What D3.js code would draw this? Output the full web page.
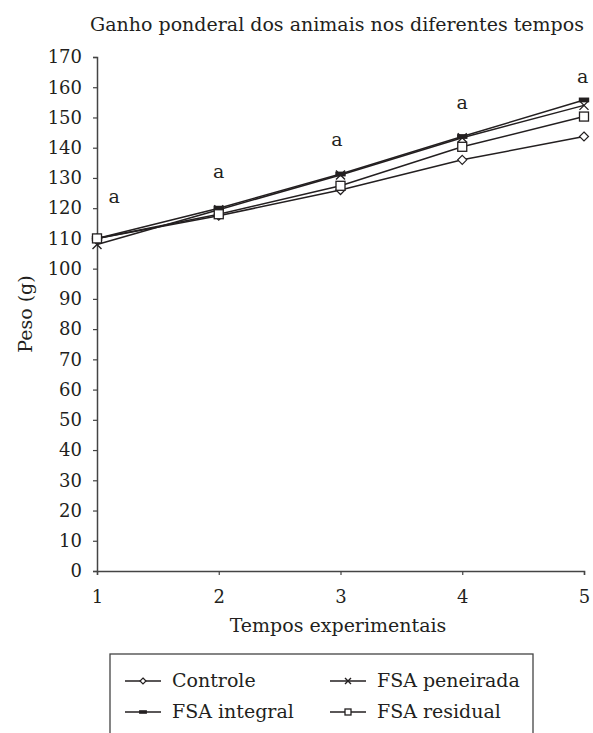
<!DOCTYPE html>
<html>
<head>
<meta charset="utf-8">
<script src="https://cdn.jsdelivr.net/npm/d3@7"></script>
<style>
  body { margin: 0; background: #fff; }
</style>
</head>
<body>
<div id="chart"></div>
<script>
// valores
const tempos = [1, 2, 3, 4, 5];
const controle = [110, 117.5, 126, 136, 143.7];
const peneirada = [108, 119.5, 131, 143.3, 154];
const integral = [110, 120, 131.3, 143.7, 155.8];
const residual = [110, 118, 127.4, 140.3, 150.3];
const yTicks = [0, 10, 20, 30, 40, 50, 60, 70, 80, 90, 100, 110, 120, 130, 140, 150, 160, 170];
const letraX = [1.14, 2.0, 2.97, 4.0, 4.99];
const letraY = [123.7, 132, 142.5, 154.8, 163.4];
const letras = ["a", "a", "a", "a", "a"];

const series = [
  { name: "Controle", values: controle, marker: "diamond" },
  { name: "FSA peneirada", values: peneirada, marker: "cross" },
  { name: "FSA integral", values: integral, marker: "bar" },
  { name: "FSA residual", values: residual, marker: "square" }
];

const width = 593, height = 733;
const margin = { top: 57, left: 97, right: 9, bottom: 162 };
const ink = "#231f20";
const serif = "'DejaVu Serif', 'Liberation Serif', serif";

const svg = d3.select("#chart").append("svg")
  .attr("width", width)
  .attr("height", height)
  .style("font-family", serif);

const x = d3.scaleLinear().domain([1, 5]).range([margin.left, width - margin.right]);
const y = d3.scaleLinear().domain([0, 170]).range([height - margin.bottom, margin.top]);

// eixos
const yAxis = svg.append("g")
  .attr("transform", `translate(${margin.left},0)`)
  .call(d3.axisLeft(y).tickValues(yTicks).tickSize(4).tickPadding(11));
const xAxis = svg.append("g")
  .attr("transform", `translate(0,${y(0)})`)
  .call(d3.axisBottom(x).tickValues(tempos).tickFormat(d3.format("d")).tickSize(4).tickPadding(15));

[xAxis, yAxis].forEach(g => {
  g.attr("font-family", null).attr("font-size", null);
  g.select(".domain").attr("stroke", "#444").attr("stroke-width", 1.5);
  g.selectAll(".tick line").attr("stroke", "#444").attr("stroke-width", 1.2);
  g.selectAll(".tick text")
    .style("font-family", serif)
    .style("font-size", "18px")
    .attr("fill", ink);
});

const addText = (x0, y0, size, txt) => svg.append("text")
  .attr("x", x0).attr("y", y0)
  .attr("text-anchor", "middle")
  .attr("fill", ink)
  .style("font-family", serif)
  .style("font-size", size + "px")
  .text(txt);

// titulos
addText(337, 31, 19, "Ganho ponderal dos animais nos diferentes tempos");
addText(338, 632, 19, "Tempos experimentais");
addText(0, 0, 19, "Peso (g)").attr("transform", "translate(32,314) rotate(-90)");

// marcadores
const drawMarker = function (g, type, s) {
  if (type === "diamond") {
    g.append("path")
      .attr("d", `M0,${-s}L${s},0L0,${s}L${-s},0Z`)
      .attr("fill", "#fff").attr("stroke", ink).attr("stroke-width", 1.2);
  } else if (type === "cross") {
    g.append("path")
      .attr("d", `M${-s},${-s}L${s},${s}M${-s},${s}L${s},${-s}`)
      .attr("stroke", ink).attr("stroke-width", 1.4);
  } else if (type === "bar") {
    g.append("rect")
      .attr("x", -s * 1.3).attr("y", -s * 0.6)
      .attr("width", s * 2.6).attr("height", s * 1.2)
      .attr("fill", ink);
  } else if (type === "square") {
    g.append("rect")
      .attr("x", -s).attr("y", -s)
      .attr("width", s * 2).attr("height", s * 2)
      .attr("fill", "#fff").attr("stroke", ink).attr("stroke-width", 1.3);
  }
};

const line = d3.line()
  .x((d, i) => x(tempos[i]))
  .y(d => y(d));

series.forEach(s => {
  svg.append("path")
    .datum(s.values)
    .attr("fill", "none")
    .attr("stroke", ink)
    .attr("stroke-width", 1.5)
    .attr("d", line);
});

series.forEach(s => {
  const size = { diamond: 4.5, cross: 4.5, bar: 4, square: 4.5 }[s.marker];
  s.values.forEach((v, i) => {
    const g = svg.append("g").attr("transform", `translate(${x(tempos[i])},${y(v)})`);
    drawMarker(g, s.marker, size);
  });
});

// letras de significancia
svg.append("g")
  .selectAll("text")
  .data(letras)
  .join("text")
    .attr("x", (d, i) => x(letraX[i]))
    .attr("y", (d, i) => y(letraY[i]))
    .attr("dy", "0.3em")
    .attr("text-anchor", "middle")
    .attr("fill", ink)
    .style("font-family", serif)
    .style("font-size", "19px")
    .text(d => d);

// legenda
const legend = svg.append("g");
legend.append("rect")
  .attr("x", 110).attr("y", 654)
  .attr("width", 423).attr("height", 100)
  .attr("fill", "none").attr("stroke", "#444").attr("stroke-width", 1.3);

series.forEach((s, i) => {
  const col = i % 2, row = Math.floor(i / 2);
  const lx = col === 0 ? 125 : 330;
  const ly = row === 0 ? 681 : 712;
  const g = legend.append("g").attr("transform", `translate(${lx},${ly})`);
  g.append("line")
    .attr("x1", 0).attr("x2", 36)
    .attr("stroke", ink).attr("stroke-width", 1.5);
  const m = g.append("g").attr("transform", "translate(18,0)");
  drawMarker(m, s.marker, 3);
  g.append("text")
    .attr("x", 47).attr("dy", "0.32em")
    .attr("fill", ink)
    .style("font-family", serif)
    .style("font-size", "19px")
    .text(s.name);
});
</script>
</body>
</html>
